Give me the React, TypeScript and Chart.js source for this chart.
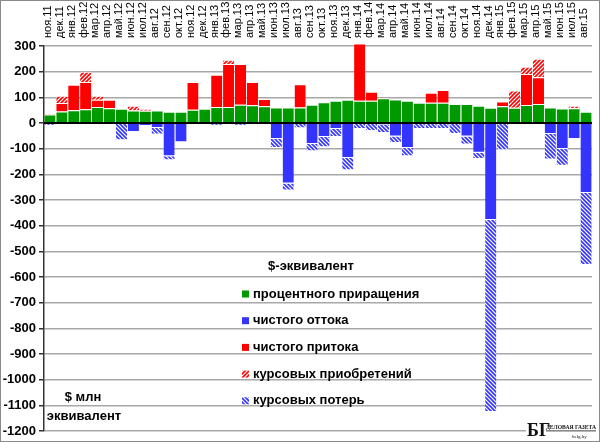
import React, { useEffect, useRef } from "react";
import { Chart, registerables } from "chart.js";

Chart.register(...registerables);

const FONT = "'Liberation Sans', Arial, sans-serif";

const months = [
  "ноя.11", "дек.11",
  "янв.12", "фев.12", "мар.12", "апр.12", "май.12", "июн.12", "июл.12", "авг.12", "сен.12", "окт.12", "ноя.12", "дек.12",
  "янв.13", "фев.13", "мар.13", "апр.13", "май.13", "июн.13", "июл.13", "авг.13", "сен.13", "окт.13", "ноя.13", "дек.13",
  "янв.14", "фев.14", "мар.14", "апр.14", "май.14", "июн.14", "июл.14", "авг.14", "сен.14", "окт.14", "ноя.14", "дек.14",
  "янв.15", "фев.15", "мар.15", "апр.15", "май.15", "июн.15", "июл.15", "авг.15",
];

// процентного приращения
const interestGrowth = [
  33, 45,
  50, 54, 62, 58, 56, 49, 48, 49, 44, 44, 52, 56,
  62, 62, 71, 69, 65, 61, 61, 61, 71, 81, 87, 91,
  87, 87, 97, 92, 87, 79, 79, 79, 74, 74, 67, 60,
  65, 60, 70, 74, 61, 57, 58, 44,
];

// чистого оттока
const netOutflow = [
  null, null,
  null, null, null, null, null, -35, -12, -19, -129, -75, null, null,
  null, null, null, null, null, -62, -235, null, -82, -54, -23, -136,
  null, null, -6, -52, -97, null, null, null, null, -52, -116, -378,
  null, null, null, null, -43, -101, -62, -272,
];

// чистого притока
const netInflow = [
  null, 33,
  99, 106, 29, 33, null, null, null, null, null, null, 108, null,
  126, 168, 159, 91, 29, null, null, 90, null, null, null, null,
  223, 35, null, null, null, null, 39, 50, null, null, null, null,
  19, null, 121, 104, null, null, null, null,
];

// курсовых приобретений
const fxGains = [
  5, 28,
  null, 40, 15, null, null, 18, 7, null, null, null, null, null,
  null, 16, null, null, null, null, null, null, null, null, null, null,
  null, null, null, null, null, null, null, null, null, null, null, null,
  null, 67, 28, 72, null, null, 9, null,
];

// курсовых потерь
const fxLosses = [
  -10, null,
  null, null, null, null, -67, null, null, -26, -16, null, null, null,
  -10, null, -10, null, null, -35, -28, -20, -28, -40, -31, -48,
  -23, -31, -33, -26, -32, -23, -23, -23, -43, -32, -24, -747,
  -106, null, null, null, -99, -65, null, -281,
];

const Y_MIN = -1200;
const Y_MAX = 300;
const Y_STEP = 100;

const legendTitle = "$-эквивалент";
const seriesNames = [
  "процентного приращения",
  "чистого оттока",
  "чистого притока",
  "курсовых приобретений",
  "курсовых потерь",
];
const unitLines = ["$ млн", "эквивалент"];

const GREEN = "#009a00";
const BLUE = "#3434ff";
const RED = "#ff0000";

function hatch(color: string, forward: boolean): CanvasPattern | string {
  const c = document.createElement("canvas");
  const s = 4;
  c.width = s;
  c.height = s;
  const g = c.getContext("2d");
  if (!g) return color;
  g.fillStyle = "#ffffff";
  g.fillRect(0, 0, s, s);
  g.strokeStyle = color;
  g.lineWidth = 1.6;
  g.beginPath();
  if (forward) {
    g.moveTo(-1, s + 1); g.lineTo(s + 1, -1);
    g.moveTo(-1, 1); g.lineTo(1, -1);
    g.moveTo(s - 1, s + 1); g.lineTo(s + 1, s - 1);
  } else {
    g.moveTo(-1, -1); g.lineTo(s + 1, s + 1);
    g.moveTo(-1, s - 1); g.lineTo(1, s + 1);
    g.moveTo(s - 1, -1); g.lineTo(s + 1, 1);
  }
  g.stroke();
  return g.createPattern(c, "repeat") || color;
}

const overlayPlugin = {
  id: "overlay",
  beforeDraw(chart: any) {
    const ctx = chart.ctx;
    ctx.save();
    ctx.fillStyle = "#ffffff";
    ctx.fillRect(0, 0, chart.width, chart.height);
    ctx.restore();
  },
  afterDatasetsDraw(chart: any) {
    const ctx = chart.ctx;
    const y = chart.scales.y.getPixelForValue(0);
    const { left, right } = chart.chartArea;
    ctx.save();
    ctx.strokeStyle = "#000000";
    ctx.lineWidth = 2;
    ctx.beginPath();
    ctx.moveTo(left, y);
    ctx.lineTo(right, y);
    ctx.stroke();
    ctx.restore();
  },
  afterDraw(chart: any) {
    const ctx = chart.ctx;
    ctx.save();
    // legend
    ctx.fillStyle = "#000";
    ctx.font = `bold 13px ${FONT}`;
    ctx.textAlign = "center";
    ctx.textBaseline = "middle";
    ctx.fillText(legendTitle, 311, 266);
    ctx.textAlign = "left";
    seriesNames.forEach((name, i) => {
      const y = 294 + i * 26.7;
      ctx.fillStyle = chart.data.datasets[i].backgroundColor;
      ctx.fillRect(242, y - 3.5, 7, 7);
      ctx.fillStyle = "#000";
      ctx.fillText(name, 253, y);
    });
    // unit caption
    ctx.textAlign = "center";
    ctx.fillText(unitLines[0], 83, 397);
    ctx.fillText(unitLines[1], 84, 416);
    // watermark
    ctx.fillStyle = "#fff";
    ctx.fillRect(526, 414, 71, 27);
    ctx.fillStyle = "#111";
    ctx.textAlign = "left";
    ctx.textBaseline = "alphabetic";
    ctx.font = "bold 18px 'Liberation Serif', 'DejaVu Serif', serif";
    ctx.fillText("БГ", 527, 436);
    ctx.font = "bold 7px 'Liberation Serif', 'DejaVu Serif', serif";
    ctx.fillText("ДЕЛОВАЯ ГАЗЕТА", 546, 429, 50);
    ctx.fillRect(546, 430.5, 50, 0.8);
    ctx.font = "5px 'Liberation Serif', serif";
    ctx.fillText("belg.by", 572, 438);
    // frame
    ctx.strokeStyle = "#8a8a8a";
    ctx.lineWidth = 1;
    ctx.strokeRect(0.5, 0.5, chart.width - 1, chart.height - 1);
    ctx.restore();
  },
};

export default function App() {
  const ref = useRef<HTMLCanvasElement | null>(null);

  useEffect(() => {
    if (!ref.current) return;
    const redHatch = hatch(RED, true);
    const blueHatch = hatch(BLUE, false);
    const common = {
      barPercentage: 0.94,
      categoryPercentage: 1,
      borderColor: "#ffffff",
      borderWidth: { top: 1, bottom: 1, left: 0, right: 0 },
      clip: false as any,
    };
    const chart = new Chart(ref.current, {
      type: "bar",
      data: {
        labels: months,
        datasets: [
          { label: seriesNames[0], data: interestGrowth, backgroundColor: GREEN, ...common },
          { label: seriesNames[1], data: netOutflow as any, backgroundColor: BLUE, ...common },
          { label: seriesNames[2], data: netInflow as any, backgroundColor: RED, ...common },
          { label: seriesNames[3], data: fxGains as any, backgroundColor: redHatch as any, ...common },
          { label: seriesNames[4], data: fxLosses as any, backgroundColor: blueHatch as any, ...common },
        ],
      },
      options: {
        responsive: false,
        animation: false,
        devicePixelRatio: 1,
        layout: { padding: { left: 0, right: 8, top: 0, bottom: 9 } },
        plugins: {
          legend: { display: false },
          tooltip: { enabled: false },
          title: { display: false },
        },
        scales: {
          x: {
            position: "top",
            stacked: true,
            grid: { display: false, drawTicks: false },
            border: { display: false },
            ticks: {
              autoSkip: false,
              minRotation: 90,
              maxRotation: 90,
              padding: 8,
              labelOffset: 11,
              color: "#000",
              font: { family: FONT, size: 11 },
            },
            afterFit: (s: any) => { s.height = 46; },
          },
          y: {
            stacked: true,
            min: Y_MIN,
            max: Y_MAX,
            grid: {
              color: "#a8a8a8",
              lineWidth: 1.5,
              tickColor: "#333",
              tickLength: 5,
            },
            border: { color: "#333", width: 1.5 },
            ticks: {
              stepSize: Y_STEP,
              maxTicksLimit: 40,
              autoSkip: false,
              padding: 3,
              color: "#000",
              font: { family: FONT, size: 13, weight: "bold" },
              callback: (v: any) => String(v),
            },
            afterFit: (s: any) => { s.width = 44; },
          },
        },
      },
      plugins: [overlayPlugin],
    });
    return () => chart.destroy();
  }, []);

  return (
    <div style={{ position: "fixed", left: 0, top: 0, width: 600, height: 442, background: "#fff" }}>
      <canvas ref={ref} width={600} height={442} style={{ display: "block", width: 600, height: 442 }} />
    </div>
  );
}
